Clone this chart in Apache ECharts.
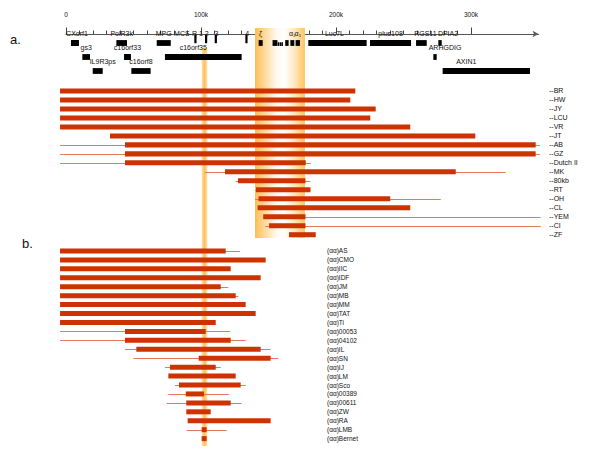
<!DOCTYPE html>
<html><head><meta charset="utf-8">
<script src="https://cdn.jsdelivr.net/npm/echarts@6/dist/echarts.min.js"></script>
<style>html,body{margin:0;padding:0;background:#fff}#c{width:600px;height:450px}</style>
</head><body><div id="c"></div><script>
// ---------------- data ----------------
const axisTickLabels = ['0', '100k', '200k', '300k'];

const geneNames = ['CXorf1','gs3','IL9R3ps','PolR3k','c16orf33','c16orf8','MPG','c16orf35','ζ','','','','','','α₂','α₁','Luc7L','plus108','RGS11','DPIA2','ARHGDIG','AXIN1'];
const geneStart = [3.7,12.1,19.8,37.3,43.0,48.4,67.2,73.3,142.7,153.0,156.8,158.3,159.5,162.4,166.2,170.1,179.5,225.2,259.3,275.8,272.1,279.0];
const geneEnd   = [9.6,17.8,27.2,45.2,48.1,62.7,77.6,130.1,145.7,156.6,158.0,159.3,160.7,164.9,169.1,173.3,222.7,255.6,267.2,278.3,274.6,343.7];
const geneRow   = [0,1,2,0,1,2,0,1,0,0,0,0,0,0,0,0,0,0,0,0,1,2];
const pseudoGenes = [10,11,12];

const mcsNames = ['MCS-R 1','2','3','4'];
const mcsPos = [95.8, 103.7, 110.9, 133.6];

const bandNarrow = [100.5, 104.7];
const bandWide = [140.0, 177.0];

const aNames = ['--BR','--HW','--JY','--LCU','--VR','--JT','--AB','--GZ','--Dutch II','--MK','--80kb','--RT','--OH','--CL','--YEM','--CI','--ZF'];
const aThinStart  = [null,null,null,null,null,null,-4.4,-4.4,-4.4,103.0,125.6,140.0,140.0,null,null,147.6,null];
const aThickStart = [-4.4,-4.4,-4.4,-4.4,-4.4,32.6,43.7,43.7,43.7,117.8,127.4,140.7,142.6,141.9,146.1,150.4,165.2];
const aThickEnd   = [214.3,210.6,229.4,225.4,255.0,303.2,347.9,347.9,177.6,288.7,177.4,181.1,240.2,255.0,177.4,177.4,185.0];
const aThinEnd    = [null,null,null,null,null,null,351.1,351.1,181.3,325.7,181.1,null,277.6,null,351.6,351.6,null];

const bNames = ['(αα)AS','(αα)CMO','(αα)IIC','(αα)IDF','(αα)JM','(αα)MB','(αα)MM','(αα)TAT','(αα)Ti','(αα)00053','(αα)04102','(αα)IL','(αα)SN','(αα)IJ','(αα)LM','(αα)Sco','(αα)00389','(αα)00611','(αα)ZW','(αα)RA','(αα)LMB','(αα)Bernet'];
const bThinStart  = [null,null,null,null,null,null,null,null,null,-4.4,-4.4,43.7,49.9,73.3,null,80.7,75.8,74.6,null,null,89.4,null];
const bThickStart = [-4.4,-4.4,-4.4,-4.4,-4.4,-4.4,-4.4,-4.4,-4.4,43.7,43.7,52.1,98.3,77.0,75.8,83.7,88.7,89.1,89.1,90.1,100.5,100.5];
const bThickEnd   = [118.3,147.9,122.0,144.2,114.6,125.7,133.1,140.5,110.9,103.5,122.0,144.2,151.6,110.9,125.7,129.4,102.2,122.0,107.2,151.6,104.2,104.2];
const bThinEnd    = [128.9,null,null,null,120.2,127.6,null,null,null,121.5,133.1,151.6,157.3,114.6,null,133.1,120.7,130.1,null,null,119.0,null];

// ---------------- styles ----------------
const FONT = '"Liberation Sans","Arimo",Arial,sans-serif';
const BAR = '#CD3300';
const THIN = '#E47A5C';
const TXT = '#111';
const labelShift = {'CXorf1': 2, 'c16orf35': -10, 'AXIN1': -20, 'ARHGDIG': 10, 'IL9R3ps': 5,
                    'RGS11': 4, 'DPIA2': 8, 'Luc7L': -3};
const PX = 1.35; // pixels per kb

const chart = echarts.init(document.getElementById('c'), null, {renderer: 'svg'});

function mkRows(n, ts, s, e, te) {
  const out = [];
  for (let i = 0; i < n; i++) out.push([i, ts[i], s[i], e[i], te[i]]);
  return out;
}
const isNum = v => v != null && !isNaN(v);

function delRender(params, api) {
  const cat = api.value(0);
  const ts = api.value(1), s = api.value(2), e = api.value(3), te = api.value(4);
  const band = api.size([0, 1])[1];
  const h = band * 0.56;
  const children = [];
  if (isNum(ts) || isNum(te)) {
    const p0 = api.coord([isNum(ts) ? ts : s, cat]);
    const p1 = api.coord([isNum(te) ? te : e, cat]);
    const y = Math.round(p0[1]) + 0.5;
    children.push({type: 'line', shape: {x1: p0[0], y1: y, x2: p1[0], y2: y}, style: {stroke: THIN, lineWidth: 1}});
  }
  const c0 = api.coord([s, cat]), c1 = api.coord([e, cat]);
  children.push({type: 'rect', shape: {x: c0[0], y: c0[1] - h / 2, width: c1[0] - c0[0], height: h}, style: {fill: BAR}});
  return {type: 'group', children};
}

function geneRender(params, api) {
  const idx = params.dataIndex;
  const s = api.value(0), e = api.value(1), row = api.value(2);
  const p0 = api.coord([s, row]), p1 = api.coord([e, row]);
  const pseudo = pseudoGenes.indexOf(idx) >= 0;
  const h = pseudo ? 3.6 : 5.8;
  const y = pseudo ? p0[1] + 2.9 - h : p0[1] - 2.9;
  const children = [{type: 'rect', shape: {x: p0[0], y: y, width: p1[0] - p0[0], height: h}, style: {fill: '#000'}}];
  const name = geneNames[idx];
  if (name) {
    children.push({type: 'text', style: {
      text: name, x: (p0[0] + p1[0]) / 2 + (labelShift[name] || 0), y: p0[1] - 9.3,
      align: 'center', verticalAlign: 'middle', fill: TXT, font: '7px ' + FONT}});
  }
  return {type: 'group', children};
}

function mcsRender(params, api) {
  const idx = params.dataIndex;
  const p = api.coord([api.value(0), 0]);
  const first = idx === 0;
  return {type: 'group', children: [
    {type: 'rect', shape: {x: p[0] - 1, y: p[1] - 8.3, width: 2.2, height: 8.5}, style: {fill: '#000'}},
    {type: 'text', style: {text: mcsNames[idx], x: first ? p[0] + 7.5 : p[0] + 0.8, y: p[1] - 9.3,
      align: first ? 'right' : 'center', verticalAlign: 'middle', fill: TXT, font: '7px ' + FONT}}
  ]};
}

function bandRender(stops) {
  return function (params, api) {
    const p0 = api.coord([api.value(0), 0]), p1 = api.coord([api.value(1), 0]);
    const cs = params.coordSys;
    return {type: 'rect', shape: {x: p0[0], y: cs.y, width: p1[0] - p0[0], height: cs.height},
      style: {fill: new echarts.graphic.LinearGradient(0, 0, 1, 0, stops)}};
  };
}

const L = 66 - 10 * PX; // left edge of grids whose axis starts at -10
const hid = {show: false};
const grid = (o) => Object.assign({outerBoundsMode: 'none', containLabel: false}, o);

const option = {
  animation: false,
  backgroundColor: '#fff',
  textStyle: {fontFamily: FONT},
  graphic: [
    {type: 'text', left: 10, top: 33, style: {text: 'a.', font: '13px ' + FONT, fill: TXT}},
    {type: 'text', left: 22, top: 237, style: {text: 'b.', font: '13px ' + FONT, fill: TXT}}
  ],
  grid: [
    grid({left: 66, top: 24, width: 300 * PX, height: 10}),          // 0 ticks
    grid({left: 66, top: 24, width: 350 * PX, height: 10}),          // 1 axis line
    grid({left: L, top: 36, width: 360 * PX, height: 42}),           // 2 genes
    grid({left: L, top: 28, width: 360 * PX, height: 210}),          // 3 wide band
    grid({left: L, top: 48, width: 360 * PX, height: 398}),          // 4 narrow band
    grid({left: L, top: 86.5, width: 360 * PX, height: 152.7}),      // 5 panel a
    grid({left: L, top: 246.5, width: 200 * PX, height: 196.6})      // 6 panel b
  ],
  xAxis: [
    {gridIndex: 0, type: 'value', position: 'top', min: 0, max: 300, interval: 100,
      axisLine: hid, splitLine: hid,
      axisTick: {show: true, length: 6.5, lineStyle: {color: '#444'}},
      minorTick: {show: true, splitNumber: 10, length: 3.5, lineStyle: {color: '#444'}},
      axisLabel: {show: true, margin: 6, fontSize: 6.5, color: TXT, fontFamily: FONT,
        formatter: v => axisTickLabels[Math.round(v / 100)] || ''}},
    {gridIndex: 1, type: 'value', position: 'top', min: 0, max: 350,
      axisLine: {show: true, lineStyle: {color: '#555', width: 1}, symbol: ['none', 'arrow'], symbolSize: [5, 6]},
      axisTick: hid, axisLabel: hid, splitLine: hid},
    {gridIndex: 2, type: 'value', min: -10, max: 350, show: false},
    {gridIndex: 3, type: 'value', min: -10, max: 350, show: false},
    {gridIndex: 4, type: 'value', min: -10, max: 350, show: false},
    {gridIndex: 5, type: 'value', min: -10, max: 350, show: false},
    {gridIndex: 6, type: 'value', min: -10, max: 190, show: false}
  ],
  yAxis: [
    {gridIndex: 0, type: 'value', show: false},
    {gridIndex: 1, type: 'value', show: false},
    {gridIndex: 2, type: 'category', data: ['r1', 'r2', 'r3'], inverse: true, show: false},
    {gridIndex: 3, type: 'value', show: false, min: 0, max: 1},
    {gridIndex: 4, type: 'value', show: false, min: 0, max: 1},
    {gridIndex: 5, type: 'category', data: aNames, inverse: true, position: 'right',
      axisLine: hid, axisTick: hid, splitLine: hid,
      axisLabel: {show: true, align: 'left', margin: 10.5, fontSize: 7, color: TXT, fontFamily: FONT, interval: 0}},
    {gridIndex: 6, type: 'category', data: bNames, inverse: true, position: 'right',
      axisLine: hid, axisTick: hid, splitLine: hid,
      axisLabel: {show: true, align: 'left', margin: 4.5, fontSize: 6.5, color: TXT, fontFamily: FONT, interval: 0}}
  ],
  series: [
    {type: 'scatter', xAxisIndex: 0, yAxisIndex: 0, data: [], silent: true},
    {type: 'scatter', xAxisIndex: 1, yAxisIndex: 1, data: [], silent: true},
    {type: 'custom', xAxisIndex: 3, yAxisIndex: 3, z: 1, clip: false, silent: true,
      renderItem: bandRender([
        {offset: 0, color: '#FDBE55'}, {offset: 0.18, color: '#FED796'}, {offset: 0.42, color: '#FFF8EE'},
        {offset: 0.58, color: '#FFFFFF'}, {offset: 0.78, color: '#FFE9C4'}, {offset: 1, color: '#FDC460'}]),
      encode: {x: [0, 1]}, data: [[bandWide[0], bandWide[1]]]},
    {type: 'custom', xAxisIndex: 4, yAxisIndex: 4, z: 1, clip: false, silent: true,
      renderItem: bandRender([
        {offset: 0, color: '#FEE3B4'}, {offset: 0.5, color: '#FCC15A'}, {offset: 1, color: '#FEE3B4'}]),
      encode: {x: [0, 1]}, data: [[bandNarrow[0], bandNarrow[1]]]},
    {type: 'custom', xAxisIndex: 2, yAxisIndex: 2, z: 3, clip: false, silent: true,
      renderItem: geneRender, encode: {x: [0, 1], y: 2},
      data: geneNames.map((n, i) => [geneStart[i], geneEnd[i], geneRow[i]])},
    {type: 'custom', xAxisIndex: 2, yAxisIndex: 2, z: 3, clip: false, silent: true,
      renderItem: mcsRender, encode: {x: 0},
      data: mcsPos.map(p => [p])},
    {type: 'custom', xAxisIndex: 5, yAxisIndex: 5, z: 3, clip: false, silent: true,
      renderItem: delRender, encode: {x: [1, 2, 3, 4], y: 0},
      data: mkRows(aNames.length, aThinStart, aThickStart, aThickEnd, aThinEnd)},
    {type: 'custom', xAxisIndex: 6, yAxisIndex: 6, z: 3, clip: false, silent: true,
      renderItem: delRender, encode: {x: [1, 2, 3, 4], y: 0},
      data: mkRows(bNames.length, bThinStart, bThickStart, bThickEnd, bThinEnd)}
  ]
};
chart.setOption(option);
</script></body></html>
